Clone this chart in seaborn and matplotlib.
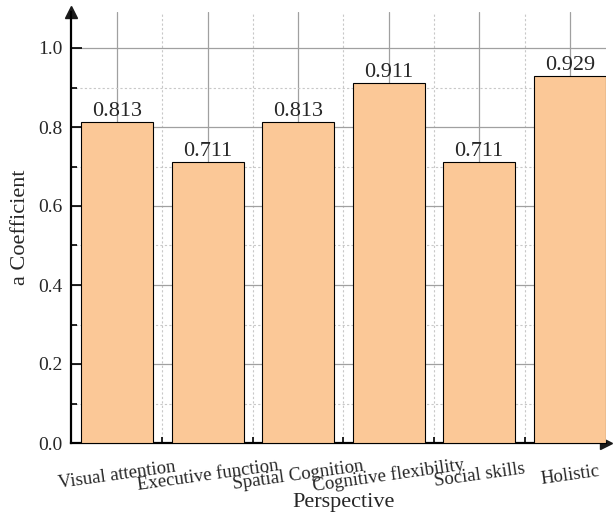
import matplotlib
matplotlib.use("Agg")
import matplotlib.pyplot as plt
import seaborn as sns
import pandas as pd
from matplotlib.ticker import MultipleLocator

categories = ["Visual attention", "Executive function", "Spatial Cognition",
              "Cognitive flexibility", "Social skills", "Holistic"]
values = [0.813, 0.711, 0.813, 0.911, 0.711, 0.929]
value_labels = ["0.813", "0.711", "0.813", "0.911", "0.711", "0.929"]
y_ticks = [0.0, 0.2, 0.4, 0.6, 0.8, 1.0]

sns.set_theme(style="white")
plt.rcParams['font.family'] = ['Liberation Serif', 'DejaVu Serif']
plt.rcParams['mathtext.fontset'] = 'stix'

df = pd.DataFrame({"Perspective": categories, "coef": values})

fig = plt.figure(figsize=(6.13, 5.13), dpi=100)
ax = fig.add_axes([71/613, 1-443/513, (606-71)/613, (443-12)/513])

sns.barplot(data=df, x="Perspective", y="coef", ax=ax, color="#FBC897",
            saturation=1, width=0.795, edgecolor="black", linewidth=0.8, zorder=3)

ax.set_ylim(0, (443-12)/395)
ax.set_xlim(-0.508, 5.40)

ax.set_yticks(y_ticks)
ax.set_yticklabels([f"{t:.1f}" for t in y_ticks], fontsize=14)
ax.yaxis.set_minor_locator(MultipleLocator(0.1))
ax.set_xticks(range(len(categories)))
ax.set_xticks([i + 0.5 for i in range(len(categories) - 1)], minor=True)
ax.set_xticklabels(categories, rotation=8, ha="center", va="center",
                   rotation_mode="anchor", fontsize=13.5)

ax.tick_params(axis="both", which="major", direction="in", length=8, width=1.2, color="black",
               left=True, bottom=True)
ax.tick_params(axis="both", which="minor", direction="in", length=4, width=1.2, color="black",
               left=True, bottom=True)
ax.tick_params(axis="x", which="major", pad=23.5)
ax.tick_params(axis="y", pad=6)

ax.grid(True, which="major", color="#a0a0a0", linewidth=0.9, linestyle="-", zorder=0)
ax.grid(True, which="minor", color="#c8c8c8", linewidth=0.8, linestyle=(0, (2, 2)), zorder=0)
ax.set_axisbelow(True)

for s in ["top", "right"]:
    ax.spines[s].set_visible(False)
for s in ["left", "bottom"]:
    ax.spines[s].set_color("black")
    ax.spines[s].set_linewidth(1.6)

# arrow heads
ax.plot(1, 0, ">k", transform=ax.transAxes, clip_on=False, markersize=9)
ax.plot(0, 1, "^k", transform=ax.transAxes, clip_on=False, markersize=9)

for i, (v, lab) in enumerate(zip(values, value_labels)):
    ax.text(i, v + 0.002, lab, ha="center", va="bottom", fontsize=16, zorder=4)

ax.set_xlabel("Perspective", fontsize=16)
ax.xaxis.set_label_coords(0.509, -0.117)
ax.set_ylabel("a Coefficient", fontsize=16, labelpad=6)

fig.savefig("out.png", dpi=100)
